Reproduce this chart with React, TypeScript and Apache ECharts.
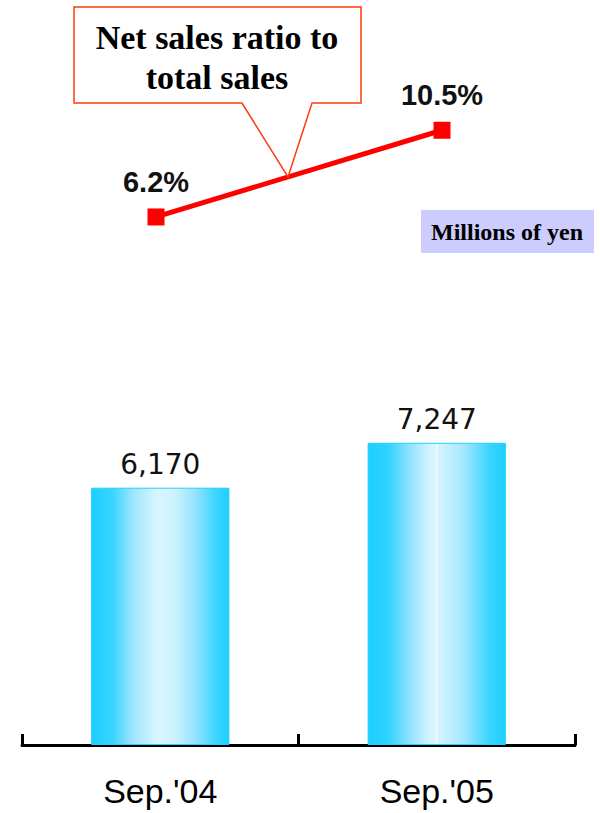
import React, { useEffect, useRef } from "react";
import * as echarts from "echarts";

const categories = ["Sep.'04", "Sep.'05"];
const netSales = [6170, 7247];
const salesRatio = [6.2, 10.5];
const calloutLines = ["Net sales ratio to", "total sales"];
const unitLabel = "Millions of yen";

const barGradient = (seam: boolean) =>
  new echarts.graphic.LinearGradient(0, 0, 1, 0, seam
    ? [
        { offset: 0, color: "#1ccfff" },
        { offset: 0.15, color: "#30d3ff" },
        { offset: 0.3, color: "#8fe2ff" },
        { offset: 0.45, color: "#d2f4ff" },
        { offset: 0.495, color: "#d8f6ff" },
        { offset: 0.5, color: "#ffffff" },
        { offset: 0.51, color: "#d4f4ff" },
        { offset: 0.7, color: "#a3e6ff" },
        { offset: 0.88, color: "#3ad5ff" },
        { offset: 1, color: "#1ccfff" },
      ]
    : [
        { offset: 0, color: "#1ccfff" },
        { offset: 0.15, color: "#36d4ff" },
        { offset: 0.3, color: "#9fe5ff" },
        { offset: 0.48, color: "#d8f6ff" },
        { offset: 0.6, color: "#cdf3ff" },
        { offset: 0.75, color: "#99e3ff" },
        { offset: 0.9, color: "#3ed5ff" },
        { offset: 1, color: "#1ccfff" },
      ]);

export default function App() {
  const ref = useRef<HTMLDivElement>(null);
  useEffect(() => {
    if (!ref.current) return;
    const chart = echarts.init(ref.current, null, { renderer: "svg" });
    chart.setOption({
      animation: false,
      backgroundColor: "#ffffff",
      grid: [
        { left: 22, right: 25, top: 328, bottom: 68 },
        { left: 13, right: 15, top: 100, bottom: 471 },
      ],
      xAxis: [
        {
          type: "category",
          gridIndex: 0,
          data: categories,
          boundaryGap: true,
          axisLine: { show: true, lineStyle: { color: "#000", width: 3 } },
          axisTick: {
            show: true,
            inside: true,
            length: 11,
            interval: 0,
            alignWithLabel: false,
            lineStyle: { color: "#000", width: 3 },
          },
          axisLabel: {
            margin: 29,
            fontSize: 34,
            color: "#000",
            fontFamily: "Liberation Sans, Arial, sans-serif",
          },
        },
        {
          type: "category",
          gridIndex: 1,
          data: categories,
          show: false,
        },
      ],
      yAxis: [
        { type: "value", gridIndex: 0, min: 0, max: 10000, show: false, splitLine: { show: false } },
        { type: "value", gridIndex: 1, min: 0, max: 12, show: false, splitLine: { show: false } },
      ],
      series: [
        {
          type: "bar",
          xAxisIndex: 0,
          yAxisIndex: 0,
          barWidth: "50%",
          data: netSales.map((v, i) => ({
            value: v,
            itemStyle: {
              color: barGradient(i === 1),
              borderColor: "#22d0ff",
              borderWidth: 1,
            },
          })),
          label: {
            show: true,
            position: "top",
            distance: 9,
            fontSize: 28,
            color: "#111",
            fontFamily: "DejaVu Sans, sans-serif",
            formatter: (p: any) => Number(p.value).toLocaleString("en-US"),
          },
        },
        {
          type: "line",
          xAxisIndex: 1,
          yAxisIndex: 1,
          data: salesRatio,
          symbol: "rect",
          symbolSize: 17,
          lineStyle: { color: "#ff0000", width: 5 },
          itemStyle: { color: "#ff0000" },
          label: {
            show: true,
            position: "top",
            distance: 12,
            fontSize: 29,
            fontWeight: "bold",
            color: "#111",
            fontFamily: "Liberation Sans, Arial, sans-serif",
            formatter: (p: any) => `${p.value}%`,
          },
          z: 3,
        },
      ],
      graphic: [
        {
          type: "polygon",
          z: 10,
          shape: {
            points: [
              [74, 7],
              [361, 7],
              [361, 103],
              [312, 103],
              [288, 177],
              [242, 103],
              [74, 103],
            ],
          },
          style: { fill: "#ffffff", stroke: "#ff3a10", lineWidth: 1.5 },
        },
        {
          type: "text",
          z: 11,
          x: 217,
          y: 37,
          style: {
            text: calloutLines[0],
            fontSize: 34,
            fontWeight: "bold",
            fontFamily: "Liberation Serif, Times New Roman, serif",
            fill: "#000",
            align: "center",
            verticalAlign: "middle",
          },
        },
        {
          type: "text",
          z: 11,
          x: 217,
          y: 77,
          style: {
            text: calloutLines[1],
            fontSize: 34,
            fontWeight: "bold",
            fontFamily: "Liberation Serif, Times New Roman, serif",
            fill: "#000",
            align: "center",
            verticalAlign: "middle",
          },
        },
        {
          type: "rect",
          z: 10,
          shape: { x: 421, y: 210, width: 173, height: 43 },
          style: { fill: "#ccccff" },
        },
        {
          type: "text",
          z: 11,
          x: 507,
          y: 232,
          style: {
            text: unitLabel,
            fontSize: 24,
            fontWeight: "bold",
            fontFamily: "Liberation Serif, Times New Roman, serif",
            fill: "#000",
            align: "center",
            verticalAlign: "middle",
          },
        },
      ],
    });
    return () => chart.dispose();
  }, []);
  return (
    <div
      ref={ref}
      style={{ position: "fixed", left: 0, top: 0, width: 600, height: 813 }}
    />
  );
}
